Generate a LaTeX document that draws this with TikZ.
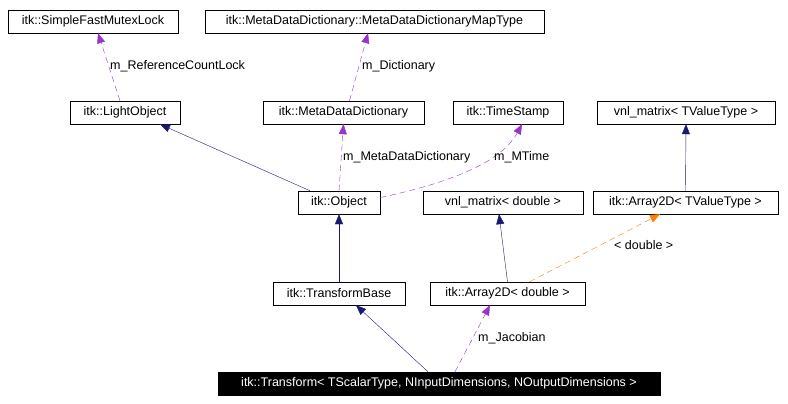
\documentclass[tikz,border=0pt]{standalone}
\usepackage{fontspec}
\setmainfont{Liberation Sans}
\usetikzlibrary{arrows.meta}
\begin{document}
\begin{tikzpicture}[x=1pt,y=-1pt,
  box/.style={draw=black,fill=white,inner sep=0pt,minimum height=23pt,font=\fontsize{12.5}{14}\selectfont},
  inh/.style={draw={rgb,255:red,25;green,25;blue,112},-{Triangle[length=10pt,width=8pt,fill={rgb,255:red,25;green,25;blue,112}]}},
  use/.style={draw={rgb,255:red,154;green,50;blue,205},dash pattern=on 6pt off 4pt,-{Triangle[length=10pt,width=8pt,fill={rgb,255:red,154;green,50;blue,205}]}},
  tmpl/.style={draw=orange,dash pattern=on 6pt off 4pt,-{Triangle[length=10pt,width=8pt,fill=orange]}},
  lab/.style={font=\fontsize{12.5}{14}\selectfont,inner sep=1pt,anchor=west}]
\useasboundingbox (0,0) rectangle (788,404);
\node[box,minimum width=170pt] (mutex) at (93,21.5) {itk::SimpleFastMutexLock};
\node[box,minimum width=339pt] (map) at (374.5,21.5) {itk::MetaDataDictionary::MetaDataDictionaryMapType};
\node[box,minimum width=110pt] (light) at (125,112.5) {itk::LightObject};
\node[box,minimum width=161pt] (mdd) at (343.5,112.5) {itk::MetaDataDictionary};
\node[box,minimum width=110pt] (ts) at (508,112.5) {itk::TimeStamp};
\node[box,minimum width=178pt] (vnlT) at (686,112.5) {vnl\_matrix< TValueType >};
\node[box,minimum width=82pt] (obj) at (339,202.5) {itk::Object};
\node[box,minimum width=160pt] (vnld) at (503,202.5) {vnl\_matrix< double >};
\node[box,minimum width=185pt] (arrT) at (685.5,202.5) {itk::Array2D< TValueType >};
\node[box,minimum width=132pt] (tb) at (339,293.5) {itk::TransformBase};
\node[box,minimum width=155pt] (arrd) at (507.5,293.5) {itk::Array2D< double >};
\node[box,fill=black,text=white,minimum width=442pt] (tr) at (439,383.5) {itk::Transform< TScalarType, NInputDimensions, NOutputDimensions >};

\draw[use] (light.north) ++(-5,0) -- (mutex.south -| 98,0);
\node[lab] at (109,66) {m\_ReferenceCountLock};
\draw[use] (mdd.north) ++(6,0) -- (map.south -| 368,0);
\node[lab] at (361,66) {m\_Dictionary};
\draw[inh] (obj.north) ++(-29,0) -- (light.south -| 160,0);
\draw[use] (obj.north) -- (mdd.south);
\node[lab] at (342,157) {m\_MetaDataDictionary};
\draw[use] (obj.east) ++(0,-5) .. controls (440,185) and (500,165) .. (ts.south -| 522,0);
\node[lab] at (493,157) {m\_MTime};
\draw[inh] (tb.north) -- (obj.south);
\draw[inh] (arrd.north) -- (vnld.south -| 499,0);
\draw[inh] (arrT.north) -- (vnlT.south);
\draw[tmpl] (arrd.north) ++(22,0) -- (arrT.south -| 660,0);
\node[lab] at (613,245) {< double >};
\draw[inh] (tr.north) ++(-11,0) -- (tb.south -| 356,0);
\draw[use] (tr.north) ++(16,0) -- (arrd.south -| 490,0);
\node[lab] at (477,338) {m\_Jacobian};
\end{tikzpicture}
\end{document}
